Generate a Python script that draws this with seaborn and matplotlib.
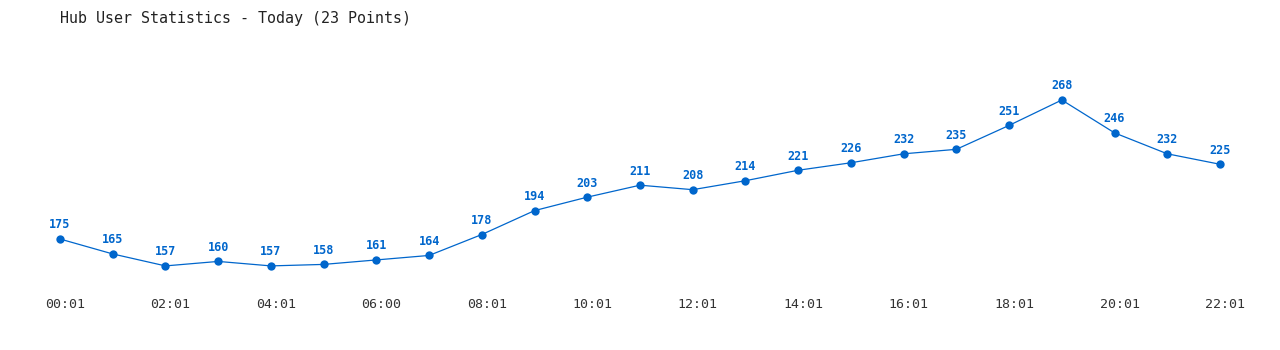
import matplotlib
matplotlib.use("Agg")
import matplotlib.pyplot as plt
import matplotlib.transforms as mtransforms
import seaborn as sns
import pandas as pd

times = ["00:01","01:01","02:01","03:01","04:01","05:01","06:00","07:01","08:01","09:01",
         "10:01","11:01","12:01","13:01","14:01","15:01","16:01","17:01","18:01","19:01",
         "20:01","21:01","22:01"]
users = [175,165,157,160,157,158,161,164,178,194,203,211,208,214,221,226,232,235,251,268,246,232,225]
tick_labels = times[::2]

sns.set_theme(style="white")
plt.rcParams['font.family'] = ['DejaVu Sans Mono', 'DejaVu Sans']

df = pd.DataFrame({"idx": range(len(users)), "users": users})
color = "#0066cc"

fig = plt.figure(figsize=(12.8, 3.5), dpi=100)
ax = fig.add_axes([0, 60/350, 1, 240/350])
sns.lineplot(data=df, x="idx", y="users", ax=ax, color=color, linewidth=0.9,
             marker="o", markersize=6, markeredgewidth=0, markerfacecolor=color)
for i, v in zip(df["idx"], df["users"]):
    ax.annotate(str(v), (i, v), xytext=(0, 5.5), textcoords="offset points",
                ha="center", va="bottom", fontsize=8.5, fontweight="bold", color=color)

step = 1160/22
ax.set_xlim(-60/step, (1280-60)/step)
ax.set_ylim(140.88, 301.45)
ax.set_xticks(range(0, len(users), 2))
ax.set_xticklabels(tick_labels, fontsize=9.5, color="#333333")
ax.set_yticks([])
ax.tick_params(axis="x", length=0, pad=6)
offset = mtransforms.ScaledTranslation(5/100, 0, fig.dpi_scale_trans)
for lbl in ax.get_xticklabels():
    lbl.set_transform(lbl.get_transform() + offset)
ax.set_xlabel("")
ax.set_ylabel("")
for s in ax.spines.values():
    s.set_visible(False)

fig.text(60/1280, 1 - 18/350, "Hub User Statistics - Today (23 Points)", fontsize=10.8,
         color="#222222", ha="left", va="center")

fig.savefig("out.png", dpi=100, facecolor="white")
